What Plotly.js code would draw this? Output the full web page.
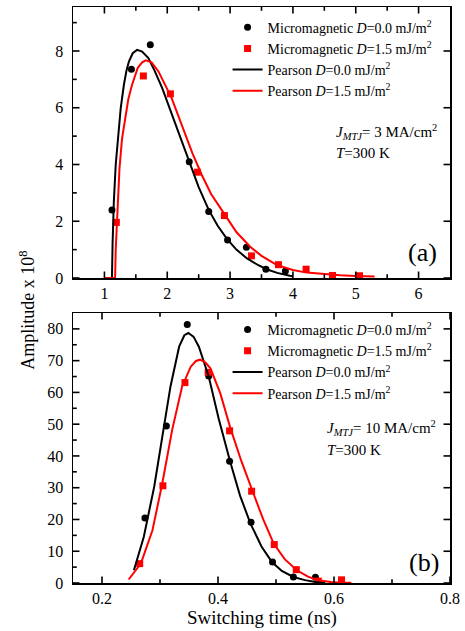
<!DOCTYPE html>
<html>
<head>
<meta charset="utf-8">
<script src="https://cdn.plot.ly/plotly-3.0.1.min.js"></script>
<style>html,body{margin:0;padding:0;background:#fff}#chart{width:465px;height:631px}</style>
</head>
<body>
<div id="chart"></div>
<script>
// ---- Panel (a): J_MTJ = 3 MA/cm^2 ----
const aMicroD0_x = [1.12, 1.43, 1.73, 2.35, 2.66, 2.96, 3.26, 3.57, 3.88];
const aMicroD0_y = [2.40, 7.36, 8.22, 4.10, 2.34, 1.34, 1.08, 0.31, 0.25];
const aMicroD15_x = [1.19, 1.62, 2.05, 2.48, 2.91, 3.34, 3.77, 4.21, 4.63, 5.06];
const aMicroD15_y = [1.96, 7.12, 6.49, 3.73, 2.20, 0.78, 0.47, 0.31, 0.09, 0.08];
const aPearsonD0_x = [1.0, 1.12, 1.13, 1.15, 1.18, 1.22, 1.26, 1.31, 1.35, 1.39, 1.45, 1.52, 1.60, 1.70, 1.80, 1.92, 2.13, 2.34, 2.50, 2.66, 2.80, 2.95, 3.10, 3.27, 3.45, 3.58, 3.75, 3.95, 4.0];
const aPearsonD0_y = [0, 0, 1.2, 2.7, 4.0, 5.04, 6.0, 6.81, 7.3, 7.63, 7.92, 8.04, 7.98, 7.75, 7.3, 6.69, 5.40, 4.15, 3.2, 2.40, 1.85, 1.38, 1.0, 0.69, 0.45, 0.31, 0.18, 0.08, 0.06];
const aPearsonD15_x = [1.0, 1.17, 1.18, 1.20, 1.24, 1.28, 1.33, 1.38, 1.44, 1.53, 1.60, 1.66, 1.75, 1.86, 2.07, 2.29, 2.40, 2.55, 2.70, 2.89, 3.10, 3.32, 3.50, 3.74, 4.0, 4.22, 4.5, 4.75, 5.0, 5.3];
const aPearsonD15_y = [0, 0, 1.0, 1.99, 3.87, 4.9, 5.63, 6.3, 6.81, 7.40, 7.6, 7.67, 7.6, 7.28, 6.34, 5.04, 4.4, 3.63, 2.95, 2.32, 1.62, 1.10, 0.78, 0.46, 0.28, 0.19, 0.13, 0.1, 0.07, 0.05];

// ---- Panel (b): J_MTJ = 10 MA/cm^2 ----
const bMicroD0_x = [0.274, 0.311, 0.347, 0.384, 0.420, 0.457, 0.494, 0.530, 0.568];
const bMicroD0_y = [20.5, 49.4, 81.4, 65.2, 38.3, 19.1, 6.6, 1.9, 1.8];
const bMicroD15_x = [0.265, 0.305, 0.343, 0.383, 0.420, 0.458, 0.497, 0.535, 0.573, 0.613];
const bMicroD15_y = [6.1, 30.6, 63.1, 66.3, 47.9, 28.9, 12.1, 4.2, 0.6, 1.0];
const bPearsonD0_x = [0.255, 0.272, 0.290, 0.304, 0.318, 0.333, 0.342, 0.349, 0.358, 0.367, 0.384, 0.401, 0.421, 0.438, 0.456, 0.475, 0.493, 0.510, 0.530, 0.550, 0.568, 0.585];
const bPearsonD0_y = [4.0, 14.5, 30.3, 46.1, 61.8, 74.4, 78.0, 78.7, 77.5, 74.4, 65.0, 51.9, 38.2, 27.5, 18.7, 11.5, 6.6, 3.8, 1.9, 0.9, 0.3, 0.1];
const bPearsonD15_x = [0.246, 0.267, 0.287, 0.304, 0.321, 0.338, 0.353, 0.362, 0.369, 0.378, 0.387, 0.404, 0.421, 0.440, 0.459, 0.478, 0.496, 0.515, 0.536, 0.555, 0.573, 0.595, 0.614, 0.630];
const bPearsonD15_y = [1.1, 6.1, 16.6, 31.4, 48.2, 61.8, 68.1, 69.9, 70.3, 69.5, 67.6, 59.7, 49.0, 38.5, 29.2, 20.0, 12.4, 7.5, 4.0, 2.0, 0.85, 0.3, 0.1, 0.05];

const names = [
  'Micromagnetic <i>D</i>=0.0 mJ/m<sup>2</sup>',
  'Micromagnetic <i>D</i>=1.5 mJ/m<sup>2</sup>',
  'Pearson <i>D</i>=0.0 mJ/m<sup>2</sup>',
  'Pearson <i>D</i>=1.5 mJ/m<sup>2</sup>'
];
// tick values
const aTicksX = [1, 2, 3, 4, 5, 6];
const aMinorX = [1.5, 2.5, 3.5, 4.5, 5.5];
const aTicksY = [0, 2, 4, 6, 8];
const aMinorY = [1, 3, 5, 7, 9];
const bTicksX = [0.2, 0.4, 0.6, 0.8];
const bMinorX = [0.3, 0.5, 0.7];
const bTicksY = [0, 10, 20, 30, 40, 50, 60, 70, 80];
const bMinorY = [5, 15, 25, 35, 45, 55, 65, 75];

const FONT = 'Liberation Serif, Times New Roman, serif';
const BLACK = '#000000', RED = '#ff0000';

function traces(mx0, my0, mx1, my1, px0, py0, px1, py1, xa, ya, lg) {
  return [
    {x: mx0, y: my0, type: 'scatter', mode: 'markers', name: names[0], xaxis: xa, yaxis: ya, legend: lg,
     marker: {symbol: 'circle', size: 7, color: BLACK}},
    {x: mx1, y: my1, type: 'scatter', mode: 'markers', name: names[1], xaxis: xa, yaxis: ya, legend: lg,
     marker: {symbol: 'square', size: 7, color: RED}},
    {x: px0, y: py0, type: 'scatter', mode: 'lines', name: names[2], xaxis: xa, yaxis: ya, legend: lg,
     line: {color: BLACK, width: 2, shape: 'linear'}},
    {x: px1, y: py1, type: 'scatter', mode: 'lines', name: names[3], xaxis: xa, yaxis: ya, legend: lg,
     line: {color: RED, width: 2, shape: 'linear'}}
  ];
}

const data = [].concat(
  traces(aMicroD0_x, aMicroD0_y, aMicroD15_x, aMicroD15_y, aPearsonD0_x, aPearsonD0_y, aPearsonD15_x, aPearsonD15_y, 'x', 'y', 'legend'),
  traces(bMicroD0_x, bMicroD0_y, bMicroD15_x, bMicroD15_y, bPearsonD0_x, bPearsonD0_y, bPearsonD15_x, bPearsonD15_y, 'x2', 'y2', 'legend2')
);

const W = 465, H = 631, M = {l: 73, r: 15, t: 7, b: 48};
const TOP_DOM = [0.5295, 1], BOT_DOM = [0, 0.46875];
const aRangeX = [0.5, 6.5], aRangeY = [0, 9.55];
const bRangeX = [0.15, 0.8], bRangeY = [0, 85];
const MAJ = 6.5, MIN = 3.8;
const plotW = W - M.l - M.r, plotH = H - M.t - M.b;

// inward-pointing frame ticks (lengths converted from pixels to axis units)
function tickShapes(xa, ya, xr, yr, dom, xMaj, xMin, yMaj, yMin) {
  const ux = (xr[1] - xr[0]) / plotW;                     // axis units per pixel (x)
  const uy = (yr[1] - yr[0]) / (plotH * (dom[1] - dom[0])); // axis units per pixel (y)
  const s = [];
  const ln = {color: BLACK, width: 1.6};
  const xt = (v, len) => {
    s.push({type: 'line', layer: 'above', xref: xa, yref: ya, x0: v, x1: v, y0: yr[0], y1: yr[0] + len * uy, line: ln});
    s.push({type: 'line', layer: 'above', xref: xa, yref: ya, x0: v, x1: v, y0: yr[1], y1: yr[1] - len * uy, line: ln});
  };
  const yt = (v, len, right) => {
    s.push({type: 'line', layer: 'above', xref: xa, yref: ya, y0: v, y1: v, x0: xr[0], x1: xr[0] + len * ux, line: ln});
    if (right) s.push({type: 'line', layer: 'above', xref: xa, yref: ya, y0: v, y1: v, x0: xr[1], x1: xr[1] - len * ux, line: ln});
  };
  xMaj.forEach(v => xt(v, MAJ));
  xMin.forEach(v => xt(v, MIN));
  yMaj.forEach(v => yt(v, MAJ, true));
  yMin.forEach(v => yt(v, MIN, false));
  return s;
}

const mainAxis = {
  showline: true, linecolor: BLACK, linewidth: 1.5, mirror: true,
  ticks: '', showgrid: false, zeroline: false, tickmode: 'array',
  tickfont: {family: FONT, size: 16, color: BLACK}
};

const legendCommon = {
  font: {family: FONT, size: 14, color: BLACK},
  bgcolor: 'rgba(0,0,0,0)', borderwidth: 0,
  xanchor: 'left', yanchor: 'top', tracegroupgap: 0, itemwidth: 30
};

const layout = {
  width: W, height: H,
  margin: M,
  paper_bgcolor: '#ffffff', plot_bgcolor: '#ffffff',
  font: {family: FONT, color: BLACK},
  showlegend: true,
  xaxis: Object.assign({}, mainAxis, {anchor: 'y', range: aRangeX, tickvals: aTicksX}),
  yaxis: Object.assign({}, mainAxis, {anchor: 'x', domain: TOP_DOM, range: aRangeY, tickvals: aTicksY, ticklabelstandoff: 5}),
  xaxis2: Object.assign({}, mainAxis, {anchor: 'y2', range: bRangeX, tickvals: bTicksX}),
  yaxis2: Object.assign({}, mainAxis, {anchor: 'x2', domain: BOT_DOM, range: bRangeY, tickvals: bTicksY, ticklabelstandoff: 5}),
  shapes: [].concat(
    tickShapes('x', 'y', aRangeX, aRangeY, TOP_DOM, aTicksX, aMinorX, aTicksY, aMinorY),
    tickShapes('x2', 'y2', bRangeX, bRangeY, BOT_DOM, bTicksX, bMinorX, bTicksY, bMinorY)
  ),
  legend: Object.assign({}, legendCommon, {x: 0.41, y: 0.992}),
  legend2: Object.assign({}, legendCommon, {x: 0.41, y: 0.467}),
  annotations: [
    {xref: 'paper', yref: 'paper', x: 0.693, y: 0.783, xanchor: 'left', yanchor: 'middle', showarrow: false,
     text: '<i>J</i><sub><i>MTJ</i></sub>= 3 MA/cm<sup>2</sup>', font: {family: FONT, size: 15, color: BLACK}},
    {xref: 'paper', yref: 'paper', x: 0.693, y: 0.7465, xanchor: 'left', yanchor: 'middle', showarrow: false,
     text: '<i>T</i>=300 K', font: {family: FONT, size: 15, color: BLACK}},
    {xref: 'paper', yref: 'paper', x: 0.928, y: 0.573, xanchor: 'center', yanchor: 'middle', showarrow: false,
     text: '(a)', font: {family: FONT, size: 26, color: BLACK}},
    {xref: 'paper', yref: 'paper', x: 0.669, y: 0.269, xanchor: 'left', yanchor: 'middle', showarrow: false,
     text: '<i>J</i><sub><i>MTJ</i></sub>= 10 MA/cm<sup>2</sup>', font: {family: FONT, size: 15, color: BLACK}},
    {xref: 'paper', yref: 'paper', x: 0.669, y: 0.231, xanchor: 'left', yanchor: 'middle', showarrow: false,
     text: '<i>T</i>=300 K', font: {family: FONT, size: 15, color: BLACK}},
    {xref: 'paper', yref: 'paper', x: 0.93, y: 0.036, xanchor: 'center', yanchor: 'middle', showarrow: false,
     text: '(b)', font: {family: FONT, size: 26, color: BLACK}},
    {xref: 'paper', yref: 'paper', x: -0.12, y: 0.474, xanchor: 'center', yanchor: 'middle', showarrow: false,
     textangle: -90, text: 'Amplitude x 10<sup>8</sup>', font: {family: FONT, size: 18, color: BLACK}},
    {xref: 'paper', yref: 'paper', x: 0.5, y: -0.06, xanchor: 'center', yanchor: 'middle', showarrow: false,
     text: 'Switching time (ns)', font: {family: FONT, size: 19, color: BLACK}}
  ]
};

Plotly.newPlot('chart', data, layout, {displayModeBar: false, staticPlot: true});
</script>
</body>
</html>
